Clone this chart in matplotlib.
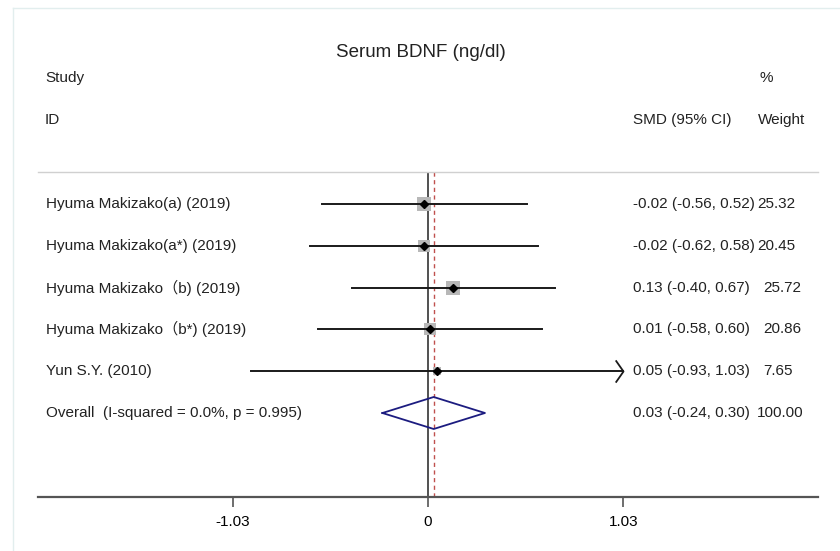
import matplotlib
matplotlib.use("Agg")
import matplotlib.pyplot as plt
from matplotlib.path import Path
from matplotlib.lines import Line2D
from matplotlib.transforms import blended_transform_factory
import numpy as np

plt.rcParams['font.family'] = ['Liberation Sans', 'Noto Sans CJK SC', 'DejaVu Sans']

# data
studies = ["Hyuma Makizako(a) (2019)", "Hyuma Makizako(a*) (2019)",
           "Hyuma Makizako\uff08b) (2019)", "Hyuma Makizako\uff08b*) (2019)",
           "Yun S.Y. (2010)"]
smd = [-0.02, -0.02, 0.13, 0.01, 0.05]
ci_low = [-0.56, -0.62, -0.40, -0.58, -0.93]
ci_high = [0.52, 0.58, 0.67, 0.60, 1.03]
weights = [25.32, 20.45, 25.72, 20.86, 7.65]
overall_label = "Overall  (I-squared = 0.0%, p = 0.995)"
overall = [0.03, -0.24, 0.30]
xticks = [-1.03, 0, 1.03]

W, H = 840, 551
fig = plt.figure(figsize=(8.4, 5.51), dpi=100)


def fx(px):
    return px / W


def fy(py):
    return 1 - py / H


# axes: x pixel 38..818, y pixel 172..497
ax = fig.add_axes([fx(38), fy(497), fx(818) - fx(38), fy(172) - fy(497)])
x0_px, unit_px = 428, 189.8
ax.set_xlim((38 - x0_px) / unit_px, (818 - x0_px) / unit_px)
row0_px, row_px = 204, 41.8
ax.set_ylim((497 - row0_px) / row_px, (172 - row0_px) / row_px)

for s in ['left', 'right']:
    ax.spines[s].set_visible(False)
ax.spines['top'].set_color('#d0d0d0')
ax.spines['top'].set_linewidth(1.0)
ax.spines['bottom'].set_color('#555555')
ax.spines['bottom'].set_linewidth(1.6)
ax.set_yticks([])
ax.set_xticks(xticks)
ax.set_xticklabels(["-1.03", "0", "1.03"])
ax.tick_params(axis='x', direction='out', length=7, width=1.2, color='#555555',
               labelsize=11, pad=6)

ylo, yhi = ax.get_ylim()
ax.plot([0, 0], [ylo, yhi], color='#333333', lw=1.2, zorder=1)
ax.plot([overall[0]] * 2, [ylo, yhi], color='#c0504d', lw=1.0, ls=(0, (3, 2.5)), zorder=1)

xmax = xticks[-1]
arrow_marker = Path([(-0.7, 1), (0, 0), (-0.7, -1)], [Path.MOVETO, Path.LINETO, Path.LINETO])
for i in range(len(studies)):
    hi = min(ci_high[i], xmax)
    ax.plot([ci_low[i], hi], [i, i], color='#1a1a1a', lw=1.4, zorder=3)
    if ci_high[i] >= xmax:
        ax.plot([hi], [i], marker=arrow_marker, ms=16, mfc='none', mec='#1a1a1a',
                mew=1.3, zorder=3)
    # gray box, area proportional to weight
    side = 13.5 * np.sqrt(weights[i] / 25.32) * 0.72
    ax.plot([smd[i]], [i], marker='s', ms=side, color='#b8b8b8', mew=0, zorder=2)
    ax.plot([smd[i]], [i], marker='D', ms=3.6, color='black', zorder=4)

# overall diamond
k = len(studies)
h = 16 / row_px
es, lo, hi = overall
ax.plot([lo, es, hi, es, lo], [k, k - h, k, k + h, k], color='#1c1c80', lw=1.3, zorder=4)

# text columns
tr = blended_transform_factory(fig.transFigure, ax.transData)
labels = studies + [overall_label]
all_es = smd + [overall[0]]
all_lo = ci_low + [overall[1]]
all_hi = ci_high + [overall[2]]
all_w = weights + [100.00]
weight_x = [757, 757, 763, 763, 763, 757]
for i, lab in enumerate(labels):
    ax.text(fx(46), i, lab, transform=tr, fontsize=11, va='center', ha='left', color='#222222')
    ax.text(fx(633), i, "%.2f (%.2f, %.2f)" % (all_es[i], all_lo[i], all_hi[i]),
            transform=tr, fontsize=11, va='center', ha='left', color='#222222')
    ax.text(fx(weight_x[i]), i, "%.2f" % all_w[i], transform=tr, fontsize=11,
            va='center', ha='left', color='#222222')

fig.text(fx(421), fy(53), "Serum BDNF (ng/dl)", fontsize=13.5, ha='center', va='center', color='#222222')
fig.text(fx(45), fy(78), "Study", fontsize=11, ha='left', va='center', color='#222222')
fig.text(fx(45), fy(120), "ID", fontsize=11, ha='left', va='center', color='#222222')
fig.text(fx(759), fy(78), "%", fontsize=11, ha='left', va='center', color='#222222')
fig.text(fx(633), fy(120), "SMD (95% CI)", fontsize=11, ha='left', va='center', color='#222222')
fig.text(fx(758), fy(120), "Weight", fontsize=11, ha='left', va='center', color='#222222')

# faint outer frame
fig.add_artist(Line2D([fx(13), fx(13)], [fy(8), 0], color='#e2eeee', lw=1.0))
fig.add_artist(Line2D([fx(13), 1], [fy(8), fy(8)], color='#e2eeee', lw=1.0))

fig.savefig("out.png", dpi=100)
